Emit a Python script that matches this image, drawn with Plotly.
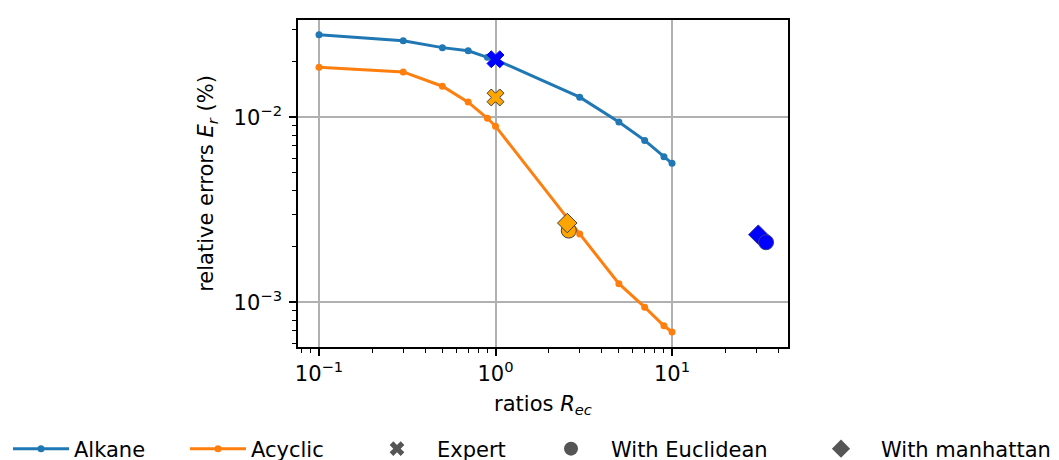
import plotly.graph_objects as go

# ---- data ----
ratios = [0.1, 0.3, 0.5, 0.7, 0.9, 1, 3, 5, 7, 9, 10]
alkane = [0.0279, 0.0259, 0.0238, 0.0229, 0.0211, 0.0205, 0.01285, 0.00944, 0.0075, 0.00612, 0.00564]
acyclic = [0.01862, 0.0176, 0.01472, 0.01208, 0.00988, 0.00895, 0.00234, 0.00126, 0.00094, 0.000746, 0.00069]

expert_x = [1.0, 1.0]            # [alkane, acyclic]
expert_y = [0.0206, 0.0128]
euclid_x = [34.1, 2.6]           # [alkane, acyclic]
euclid_y = [0.00211, 0.00244]
manh_x = [30.8, 2.55]            # [alkane, acyclic]
manh_y = [0.00232, 0.00268]

x_tickvals = [0.1, 1, 10]
x_ticktext = ["10<sup>\u22121</sup>", "10<sup>0</sup>", "10<sup>1</sup>"]
y_tickvals = [0.001, 0.01]
y_ticktext = ["10<sup>\u22123</sup>", "10<sup>\u22122</sup>"]
x_minor = [0.08, 0.09, 0.2, 0.3, 0.4, 0.5, 0.6, 0.7, 0.8, 0.9,
           2, 3, 4, 5, 6, 7, 8, 9, 20, 30, 40]
y_minor = [0.0006, 0.0007, 0.0008, 0.0009, 0.002, 0.003, 0.004, 0.005,
           0.006, 0.007, 0.008, 0.009, 0.02, 0.03]

C_ALK = "#1f77b4"
C_ACY = "#ff7f0e"
EDGE = "#404040"
GRAY = "#555555"
FONT = "DejaVu Sans"
FS = 21

fig = go.Figure()

fig.add_trace(go.Scatter(x=ratios, y=alkane, mode="lines+markers", name="Alkane",
                         line=dict(color=C_ALK, width=3), marker=dict(size=7, color=C_ALK),
                         legend="legend"))
fig.add_trace(go.Scatter(x=ratios, y=acyclic, mode="lines+markers", name="Acyclic",
                         line=dict(color=C_ACY, width=3), marker=dict(size=7, color=C_ACY),
                         legend="legend2"))

# expert markers
fig.add_trace(go.Scatter(x=expert_x[:1], y=expert_y[:1], mode="markers", showlegend=False,
                         marker=dict(symbol="x", size=15, color="blue", line=dict(color="blue", width=1))))
fig.add_trace(go.Scatter(x=expert_x[1:], y=expert_y[1:], mode="markers", showlegend=False,
                         marker=dict(symbol="x", size=15, color="orange", line=dict(color=EDGE, width=1))))
# acyclic: circle then diamond on top
fig.add_trace(go.Scatter(x=euclid_x[1:], y=euclid_y[1:], mode="markers", showlegend=False,
                         marker=dict(symbol="circle", size=15, color="orange", line=dict(color=EDGE, width=1))))
fig.add_trace(go.Scatter(x=manh_x[1:], y=manh_y[1:], mode="markers", showlegend=False,
                         marker=dict(symbol="diamond", size=15, color="orange", line=dict(color=EDGE, width=1))))
# alkane: diamond then circle on top
fig.add_trace(go.Scatter(x=manh_x[:1], y=manh_y[:1], mode="markers", showlegend=False,
                         marker=dict(symbol="diamond", size=15, color="blue", line=dict(color="#3a3a8a", width=1))))
fig.add_trace(go.Scatter(x=euclid_x[:1], y=euclid_y[:1], mode="markers", showlegend=False,
                         marker=dict(symbol="circle", size=15, color="blue", line=dict(color="#3a3a8a", width=1))))

# legend-only gray handles
fig.add_trace(go.Scatter(x=[None], y=[None], mode="markers", name="Expert", legend="legend3",
                         marker=dict(symbol="x", size=13, color=GRAY)))
fig.add_trace(go.Scatter(x=[None], y=[None], mode="markers", name="With Euclidean", legend="legend4",
                         marker=dict(symbol="circle", size=14, color=GRAY)))
fig.add_trace(go.Scatter(x=[None], y=[None], mode="markers", name="With manhattan", legend="legend5",
                         marker=dict(symbol="diamond", size=14, color=GRAY)))

OFF = 8  # page body margin offset
W, H = 1059 - OFF, 460 - OFF
LY = (H - (449 - OFF)) / H


def leg(xpx, iw):
    return dict(x=(xpx - OFF) / W, y=LY, xref="container", yref="container", xanchor="left", yanchor="middle",
                orientation="h", itemwidth=iw, bgcolor="rgba(0,0,0,0)", borderwidth=0,
                font=dict(family=FONT, size=FS, color="black"))


axis_common = dict(type="log", showline=True, linecolor="black", linewidth=1.6, mirror=True,
                   ticks="outside", ticklen=7, tickwidth=1.6, tickcolor="black",
                   showgrid=True, gridcolor="#b0b0b0", gridwidth=1.6, zeroline=False,
                   tickfont=dict(family=FONT, size=FS, color="black"))

fig.update_layout(
    width=W, height=H,
    margin=dict(l=298 - OFF, r=(1059 - 788), t=18 - OFF, b=(460 - 347)),
    paper_bgcolor="white", plot_bgcolor="white",
    font=dict(family=FONT, size=FS, color="black"),
    xaxis=dict(**axis_common, range=[-1.119, 1.657], tickmode="array",
               tickvals=x_tickvals, ticktext=x_ticktext,
               minor=dict(tickmode="array", tickvals=x_minor, ticks="outside", ticklen=4,
                          tickwidth=1.2, tickcolor="black", showgrid=False),
               title=dict(text="ratios <i>R<sub>ec</sub></i>", font=dict(family=FONT, size=FS, color="black"),
                          standoff=11)),
    yaxis=dict(**axis_common, range=[-3.242, -1.474], tickmode="array",
               tickvals=y_tickvals, ticktext=y_ticktext, ticklabelstandoff=3,
               minor=dict(tickmode="array", tickvals=y_minor, ticks="outside", ticklen=4,
                          tickwidth=1.2, tickcolor="black", showgrid=False),
               title=dict(text="relative errors <i>E<sub>r</sub></i> (%)",
                          font=dict(family=FONT, size=FS, color="black"), standoff=14)),
    legend=leg(5, 56),
    legend2=leg(185, 56),
    legend3=leg(357, 70),
    legend4=leg(531, 70),
    legend5=leg(801, 70),
)

fig.write_html("out.html")
